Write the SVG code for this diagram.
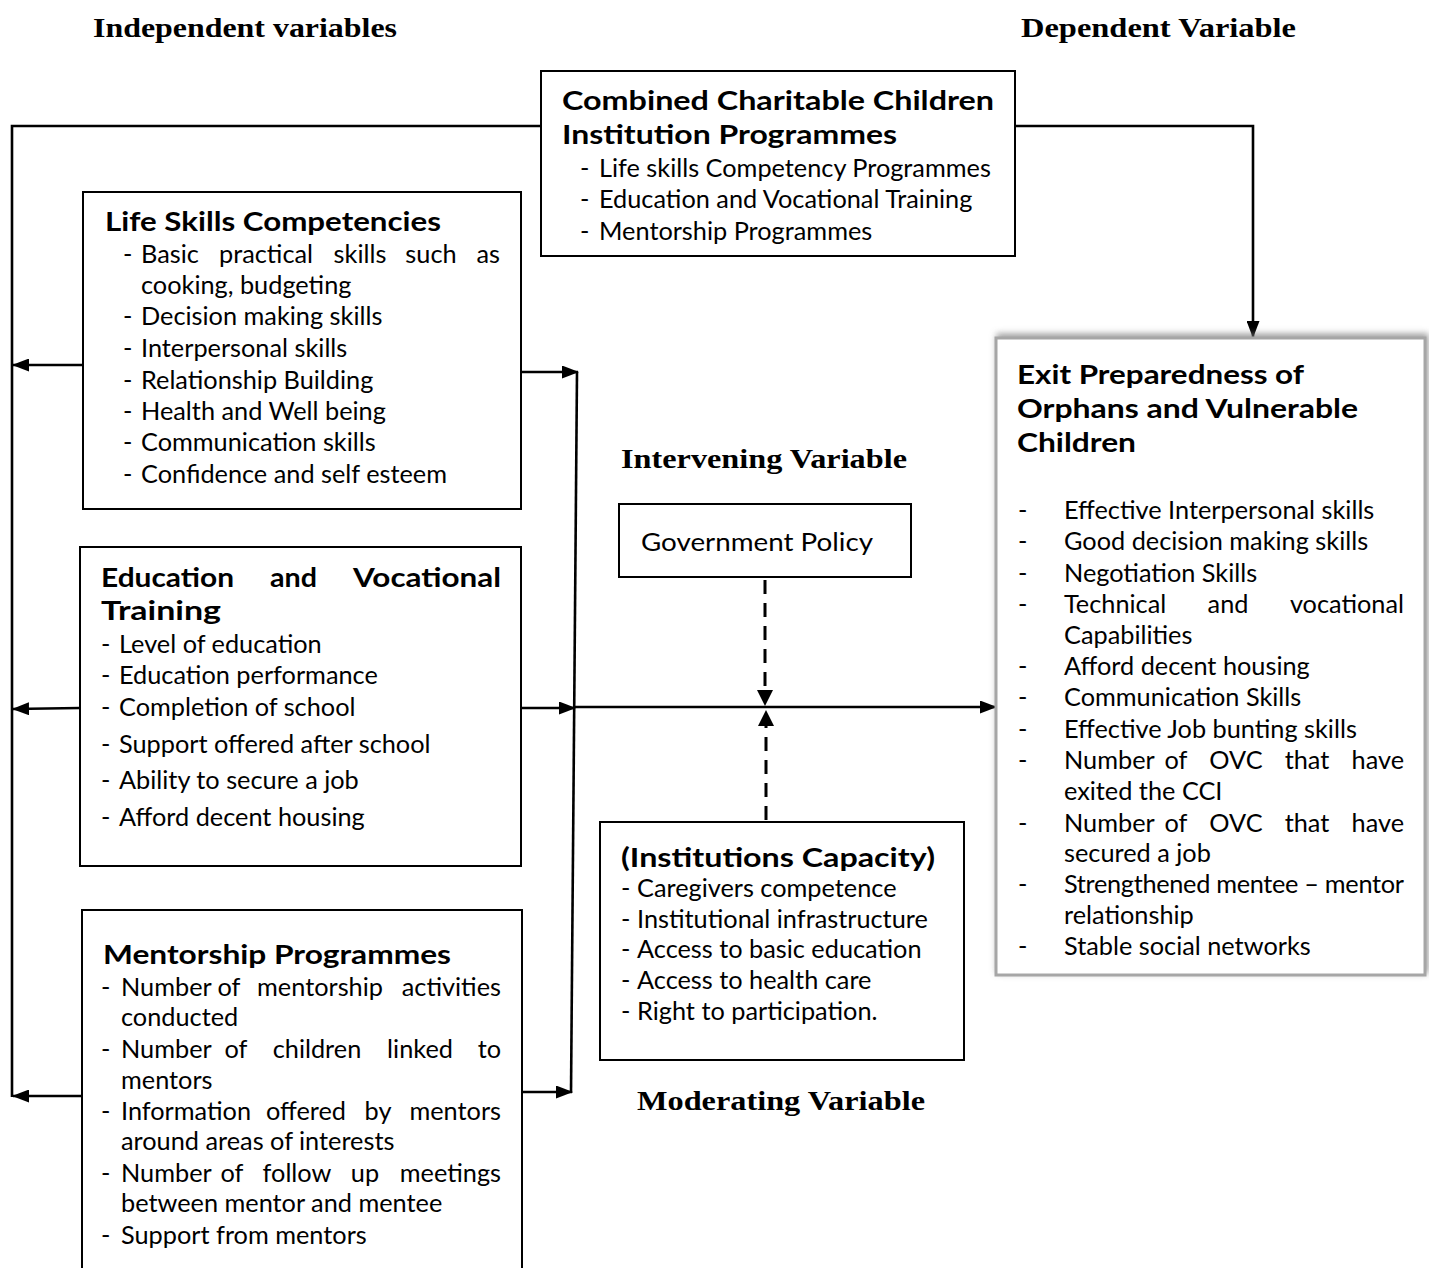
<svg xmlns="http://www.w3.org/2000/svg" width="1429" height="1268" viewBox="0 0 1429 1268">
<style>
.title{font-family:"Liberation Serif","Times New Roman",serif;font-weight:bold;font-size:28px;fill:#000}
.h{font-family:Lato,"Open Sans",sans-serif;font-weight:bold;font-size:27px;fill:#000}
.t{font-family:Lato,"Open Sans",sans-serif;font-size:25.3px;fill:#000}
.box{fill:#fff;stroke:#000;stroke-width:2}
.ln{fill:none;stroke:#000;stroke-width:2.6}
.dash{fill:none;stroke:#000;stroke-width:3;stroke-dasharray:14 9}
</style>
<defs>
<marker id="ah" viewBox="0 0 17 13" refX="16" refY="6.5" markerWidth="17" markerHeight="13" markerUnits="userSpaceOnUse" orient="auto">
<path d="M0,0 L17,6.5 L0,13 Z" fill="#000"/>
</marker>
<filter id="sh" x="-5%" y="-5%" width="110%" height="110%">
<feDropShadow dx="2" dy="-3" stdDeviation="3" flood-color="#777" flood-opacity="0.7"/>
</filter>
</defs>
<rect width="1429" height="1268" fill="#fff"/>

<g id="titles">
<text class="title" x="93" y="37" textLength="304" lengthAdjust="spacingAndGlyphs">Independent variables</text>
<text class="title" x="1021" y="37" textLength="275" lengthAdjust="spacingAndGlyphs">Dependent Variable</text>
<text class="title" x="621" y="468" textLength="286" lengthAdjust="spacingAndGlyphs">Intervening Variable</text>
<text class="title" x="637" y="1110" textLength="288" lengthAdjust="spacingAndGlyphs">Moderating Variable</text>
</g>

<g id="connectors">
<polyline class="ln" points="541,126 12,126 12,1097"/>
<line class="ln" x1="83" y1="365" x2="13" y2="365" marker-end="url(#ah)"/>
<line class="ln" x1="80" y1="708" x2="13" y2="709" marker-end="url(#ah)"/>
<line class="ln" x1="82" y1="1096" x2="13" y2="1096" marker-end="url(#ah)"/>
<polyline class="ln" points="1015,126 1253,126 1253,337" marker-end="url(#ah)"/>
<line class="ln" x1="521" y1="372" x2="578" y2="372" marker-end="url(#ah)"/>
<line class="ln" x1="577" y1="372" x2="571" y2="1093"/>
<line class="ln" x1="521" y1="708" x2="575" y2="708" marker-end="url(#ah)"/>
<line class="ln" x1="575" y1="707" x2="996" y2="707" marker-end="url(#ah)"/>
<line class="ln" x1="522" y1="1092" x2="572" y2="1092" marker-end="url(#ah)"/>
<line class="dash" x1="765" y1="580" x2="765" y2="690"/>
<path d="M757,690 L773,690 L765,706 Z" fill="#000"/>
<line class="dash" x1="766" y1="820" x2="766" y2="726"/>
<path d="M758,726 L774,726 L766,710 Z" fill="#000"/>
</g>

<g id="combined">
<rect class="box" x="541" y="71" width="474" height="185"/>
<text class="h" x="562" y="110" textLength="432" lengthAdjust="spacingAndGlyphs">Combined Charitable Children</text>
<text class="h" x="562" y="144" textLength="335" lengthAdjust="spacingAndGlyphs">Institution Programmes</text>
<text class="t" x="580" y="177">-</text><text class="t" x="599" y="177">Life skills Competency Programmes</text>
<text class="t" x="580" y="208">-</text><text class="t" x="599" y="208">Education and Vocational Training</text>
<text class="t" x="580" y="240">-</text><text class="t" x="599" y="240">Mentorship Programmes</text>
</g>

<g id="lifeskills">
<rect class="box" x="83" y="192" width="438" height="317"/>
<text class="h" x="105" y="231" textLength="336" lengthAdjust="spacingAndGlyphs">Life Skills Competencies</text>
<text class="t" x="123" y="263">-</text>
<text class="t" y="263"><tspan x="141">Basic</tspan><tspan x="266" text-anchor="middle">practical</tspan><tspan x="360" text-anchor="middle">skills</tspan><tspan x="431" text-anchor="middle">such</tspan><tspan x="500" text-anchor="end">as</tspan></text>
<text class="t" x="141" y="294">cooking, budgeting</text>
<text class="t" x="123" y="325">-</text><text class="t" x="141" y="325">Decision making skills</text>
<text class="t" x="123" y="357">-</text><text class="t" x="141" y="357">Interpersonal skills</text>
<text class="t" x="123" y="389">-</text><text class="t" x="141" y="389">Relationship Building</text>
<text class="t" x="123" y="420">-</text><text class="t" x="141" y="420">Health and Well being</text>
<text class="t" x="123" y="451">-</text><text class="t" x="141" y="451">Communication skills</text>
<text class="t" x="123" y="483">-</text><text class="t" x="141" y="483">Confidence and self esteem</text>
</g>

<g id="education">
<rect class="box" x="80" y="547" width="441" height="319"/>
<text class="h" x="101" y="587" textLength="133" lengthAdjust="spacingAndGlyphs">Education</text>
<text class="h" x="270" y="587" textLength="47" lengthAdjust="spacingAndGlyphs">and</text>
<text class="h" x="353" y="587" textLength="148" lengthAdjust="spacingAndGlyphs">Vocational</text>
<text class="h" x="101" y="620" textLength="120" lengthAdjust="spacingAndGlyphs">Training</text>
<text class="t" x="101" y="653">-</text><text class="t" x="119" y="653">Level of education</text>
<text class="t" x="101" y="684">-</text><text class="t" x="119" y="684">Education performance</text>
<text class="t" x="101" y="716">-</text><text class="t" x="119" y="716">Completion of school</text>
<text class="t" x="101" y="753">-</text><text class="t" x="119" y="753">Support offered after school</text>
<text class="t" x="101" y="789">-</text><text class="t" x="119" y="789">Ability to secure a job</text>
<text class="t" x="101" y="826">-</text><text class="t" x="119" y="826">Afford decent housing</text>
</g>

<g id="mentorship">
<rect class="box" x="82" y="910" width="440" height="370"/>
<text class="h" x="103" y="964" textLength="348" lengthAdjust="spacingAndGlyphs">Mentorship Programmes</text>
<text class="t" x="101" y="996">-</text>
<text class="t" y="996"><tspan x="121">Number</tspan><tspan x="229" text-anchor="middle">of</tspan><tspan x="320" text-anchor="middle">mentorship</tspan><tspan x="501" text-anchor="end">activities</tspan></text>
<text class="t" x="121" y="1026">conducted</text>
<text class="t" x="101" y="1058">-</text>
<text class="t" y="1058"><tspan x="121">Number</tspan><tspan x="236" text-anchor="middle">of</tspan><tspan x="317" text-anchor="middle">children</tspan><tspan x="420" text-anchor="middle">linked</tspan><tspan x="501" text-anchor="end">to</tspan></text>
<text class="t" x="121" y="1089">mentors</text>
<text class="t" x="101" y="1120">-</text>
<text class="t" y="1120"><tspan x="121">Information</tspan><tspan x="306" text-anchor="middle">offered</tspan><tspan x="378" text-anchor="middle">by</tspan><tspan x="501" text-anchor="end">mentors</tspan></text>
<text class="t" x="121" y="1150">around areas of interests</text>
<text class="t" x="101" y="1182">-</text>
<text class="t" y="1182"><tspan x="121">Number</tspan><tspan x="232" text-anchor="middle">of</tspan><tspan x="297" text-anchor="middle">follow</tspan><tspan x="365" text-anchor="middle">up</tspan><tspan x="501" text-anchor="end">meetings</tspan></text>
<text class="t" x="121" y="1212">between mentor and mentee</text>
<text class="t" x="101" y="1244">-</text><text class="t" x="121" y="1244">Support from mentors</text>
</g>

<g id="government">
<rect class="box" x="619" y="504" width="292" height="73"/>
<text class="t" x="641" y="551" font-size="26" textLength="232" lengthAdjust="spacingAndGlyphs">Government Policy</text>
</g>

<g id="institutions">
<rect class="box" x="600" y="822" width="364" height="238"/>
<text class="h" x="621" y="867" textLength="314" lengthAdjust="spacingAndGlyphs">(Institutions Capacity)</text>
<text class="t" x="621" y="897">-</text><text class="t" x="637" y="897">Caregivers competence</text>
<text class="t" x="621" y="928">-</text><text class="t" x="637" y="928">Institutional infrastructure</text>
<text class="t" x="621" y="958">-</text><text class="t" x="637" y="958">Access to basic education</text>
<text class="t" x="621" y="989">-</text><text class="t" x="637" y="989">Access to health care</text>
<text class="t" x="621" y="1020">-</text><text class="t" x="637" y="1020">Right to participation.</text>
</g>

<g id="exit">
<rect x="996" y="338" width="429" height="637" fill="#fff" stroke="#a6a6a6" stroke-width="3" filter="url(#sh)"/>
<text class="h" x="1017" y="384" textLength="287" lengthAdjust="spacingAndGlyphs">Exit Preparedness of</text>
<text class="h" x="1017" y="418" textLength="341" lengthAdjust="spacingAndGlyphs">Orphans and Vulnerable</text>
<text class="h" x="1017" y="452" textLength="119" lengthAdjust="spacingAndGlyphs">Children</text>
<text class="t" x="1018" y="519">-</text><text class="t" x="1064" y="519">Effective Interpersonal skills</text>
<text class="t" x="1018" y="550">-</text><text class="t" x="1064" y="550">Good decision making skills</text>
<text class="t" x="1018" y="582">-</text><text class="t" x="1064" y="582">Negotiation Skills</text>
<text class="t" x="1018" y="613">-</text>
<text class="t" y="613"><tspan x="1064">Technical</tspan><tspan x="1228" text-anchor="middle">and</tspan><tspan x="1404" text-anchor="end">vocational</tspan></text>
<text class="t" x="1064" y="644">Capabilities</text>
<text class="t" x="1018" y="675">-</text><text class="t" x="1064" y="675">Afford decent housing</text>
<text class="t" x="1018" y="706">-</text><text class="t" x="1064" y="706">Communication Skills</text>
<text class="t" x="1018" y="738">-</text><text class="t" x="1064" y="738">Effective Job bunting skills</text>
<text class="t" x="1018" y="769">-</text>
<text class="t" y="769"><tspan x="1064">Number</tspan><tspan x="1176" text-anchor="middle">of</tspan><tspan x="1236" text-anchor="middle">OVC</tspan><tspan x="1307" text-anchor="middle">that</tspan><tspan x="1404" text-anchor="end">have</tspan></text>
<text class="t" x="1064" y="800">exited the CCI</text>
<text class="t" x="1018" y="832">-</text>
<text class="t" y="832"><tspan x="1064">Number</tspan><tspan x="1176" text-anchor="middle">of</tspan><tspan x="1236" text-anchor="middle">OVC</tspan><tspan x="1307" text-anchor="middle">that</tspan><tspan x="1404" text-anchor="end">have</tspan></text>
<text class="t" x="1064" y="862">secured a job</text>
<text class="t" x="1018" y="893">-</text><text class="t" x="1064" y="893" textLength="340" lengthAdjust="spacing">Strengthened mentee – mentor</text>
<text class="t" x="1064" y="924">relationship</text>
<text class="t" x="1018" y="955">-</text><text class="t" x="1064" y="955">Stable social networks</text>
</g>
</svg>
